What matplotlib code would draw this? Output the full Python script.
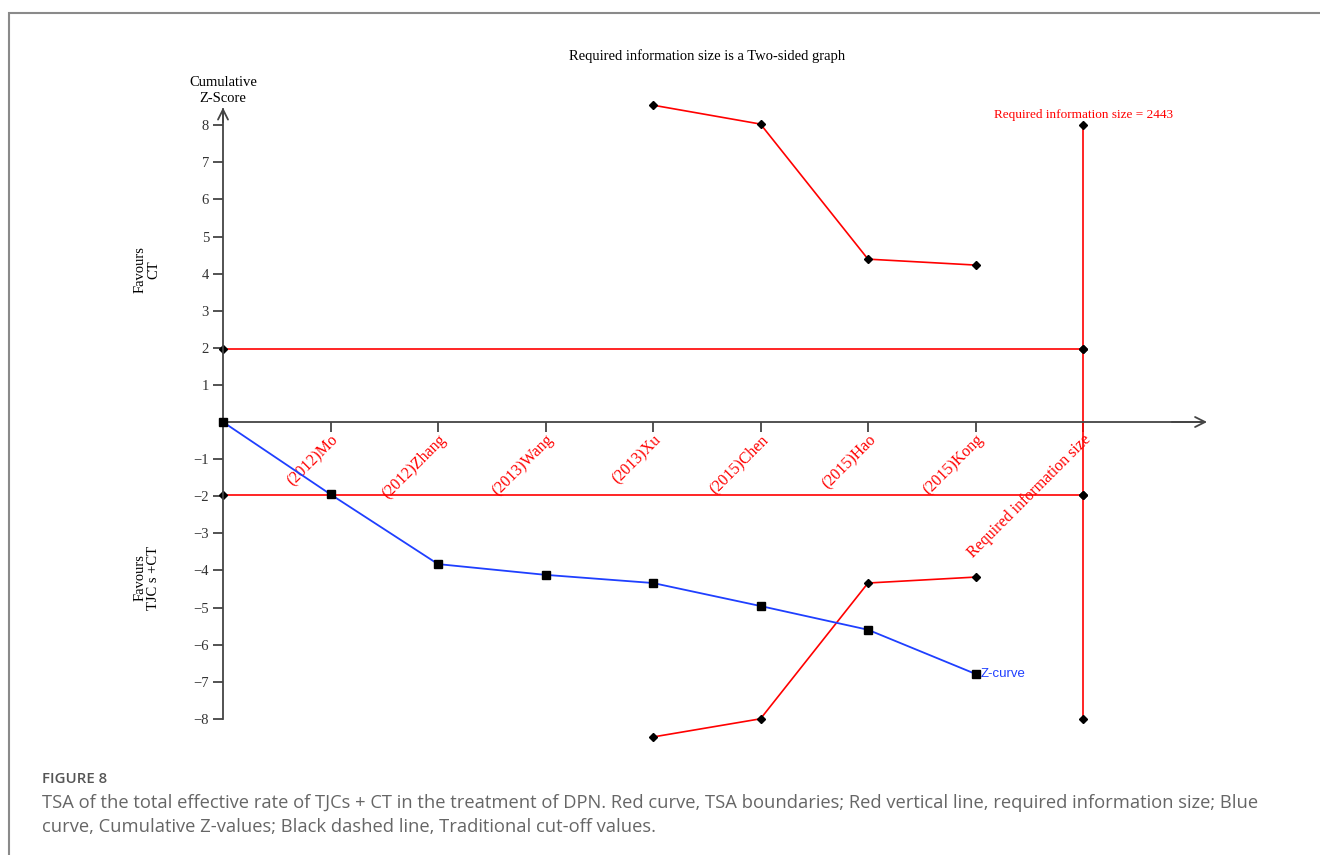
import matplotlib
matplotlib.use("Agg")
import matplotlib.pyplot as plt
from matplotlib.patches import Rectangle

plt.rcParams['font.family'] = ['Liberation Serif', 'DejaVu Serif']

# data
studies = ['(2012)Mo', '(2012)Zhang', '(2013)Wang', '(2013)Xu',
           '(2015)Chen', '(2015)Hao', '(2015)Kong', 'Required information size']
z_pos = [0, 1, 2, 3, 4, 5, 6, 7]
z_values = [0, -1.95, -3.83, -4.12, -4.34, -4.96, -5.60, -6.79]
bound_pos = [4, 5, 6, 7]
upper_bound = [8.54, 8.03, 4.39, 4.23]
lower_bound = [-8.49, -8.00, -4.34, -4.18]
cutoff = 1.96
ris_pos = 8
ris_top = 8
ris_value = 2443
yticks = [-8, -7, -6, -5, -4, -3, -2, -1, 1, 2, 3, 4, 5, 6, 7, 8]

W, H = 1320, 855
fig = plt.figure(figsize=(W / 100, H / 100), dpi=100)

# pixel layout of the plotting area
x0_px, x_scale = 223, 107.5
y0_px, y_scale = 422, 37.1
left_px, right_px, top_px, bot_px = 130, 1230, 40, 760
ax = fig.add_axes([left_px / W, (H - bot_px) / H, (right_px - left_px) / W, (bot_px - top_px) / H])
ax.set_xlim((left_px - x0_px) / x_scale, (right_px - x0_px) / x_scale)
ax.set_ylim((y0_px - bot_px) / y_scale, (y0_px - top_px) / y_scale)
ax.patch.set_alpha(0)

axis_col = '#444444'
for s in ['top', 'right']:
    ax.spines[s].set_visible(False)
ax.spines['left'].set_position(('data', 0))
ax.spines['bottom'].set_position(('data', 0))
ax.spines['left'].set_bounds(-8, 8.45)
ax.spines['bottom'].set_bounds(0, 9.1)
for s in ['left', 'bottom']:
    ax.spines[s].set_color(axis_col)
    ax.spines[s].set_linewidth(1.3)

ax.annotate('', xy=(0, 8.55), xytext=(0, 8.0),
            arrowprops=dict(arrowstyle='->', color=axis_col, lw=1.3, mutation_scale=18))
ax.annotate('', xy=(9.18, 0), xytext=(8.8, 0),
            arrowprops=dict(arrowstyle='->', color=axis_col, lw=1.3, mutation_scale=18))

ax.set_yticks(yticks)
ax.tick_params(axis='y', direction='out', length=7, width=1.3, color=axis_col,
               labelsize=10.5, labelcolor='#333333', pad=3)
ax.set_xticks(range(1, len(studies) + 1))
ax.set_xticklabels(studies, rotation=45, ha='right', rotation_mode='anchor',
                   color='red', fontsize=11.5)
ax.tick_params(axis='x', direction='out', length=7, width=1.3, color=axis_col, pad=0)

# conventional boundaries and required information size
ax.plot([0, ris_pos], [cutoff, cutoff], color='red', lw=1.2, marker='D', ms=4, mfc='black', mec='black')
ax.plot([0, ris_pos], [-cutoff, -cutoff], color='red', lw=1.2, marker='D', ms=4, mfc='black', mec='black')
ax.plot([ris_pos] * 4, [-ris_top, -cutoff, cutoff, ris_top], color='red', lw=1.2,
        marker='D', ms=4, mfc='black', mec='black')

# TSA boundaries
ax.plot(bound_pos, upper_bound, color='red', lw=1.2, marker='D', ms=4, mfc='black', mec='black')
ax.plot(bound_pos, lower_bound, color='red', lw=1.2, marker='D', ms=4, mfc='black', mec='black')

# Z-curve
ax.plot(z_pos, z_values, color='#1f3fff', lw=1.3, marker='s', ms=5.5, mfc='black', mec='black', zorder=5)
ax.text(z_pos[-1] + 0.05, z_values[-1], 'Z-curve', color='#1f3fff', fontsize=9.5,
        family=['Liberation Sans', 'DejaVu Sans'], ha='left', va='center')

ax.text(ris_pos, ris_top + 0.12, 'Required information size = %d' % ris_value,
        color='red', fontsize=9.5, ha='center', va='bottom')

fig.text(707 / W, 1 - 56 / H, 'Required information size is a Two-sided graph',
         ha='center', va='center', fontsize=10.5)
fig.text(223 / W, 1 - 90 / H, 'Cumulative\nZ-Score', ha='center', va='center',
         fontsize=10.5, linespacing=1.3)
fig.text(147 / W, 1 - 270 / H, 'Favours\nCT', ha='center', va='center',
         fontsize=10.5, rotation=90, linespacing=1.05)
fig.text(147 / W, 1 - 578 / H, 'Favours\nTJC s +CT', ha='center', va='center',
         fontsize=10.5, rotation=90, linespacing=1.05)

# frame and caption
fig.patches.append(Rectangle((9 / W, -0.2), 2, 1.2 - 13 / H, transform=fig.transFigure,
                             fill=False, edgecolor='#8a8a8a', lw=1.5))
cap_font = ['Open Sans', 'DejaVu Sans']
fig.text(42 / W, 1 - 779 / H, 'FIGURE 8', family=cap_font, fontsize=10.8,
         fontweight='semibold', color='#555555', va='center', ha='left')
fig.text(42 / W, 1 - 803 / H,
         'TSA of the total effective rate of TJCs + CT in the treatment of DPN. Red curve, TSA boundaries; '
         'Red vertical line, required information size; Blue',
         family=cap_font, fontsize=13.2, color='#666666', va='center', ha='left')
fig.text(42 / W, 1 - 827 / H,
         'curve, Cumulative Z-values; Black dashed line, Traditional cut-off values.',
         family=cap_font, fontsize=13.2, color='#666666', va='center', ha='left')

fig.savefig('out.png', dpi=100)
